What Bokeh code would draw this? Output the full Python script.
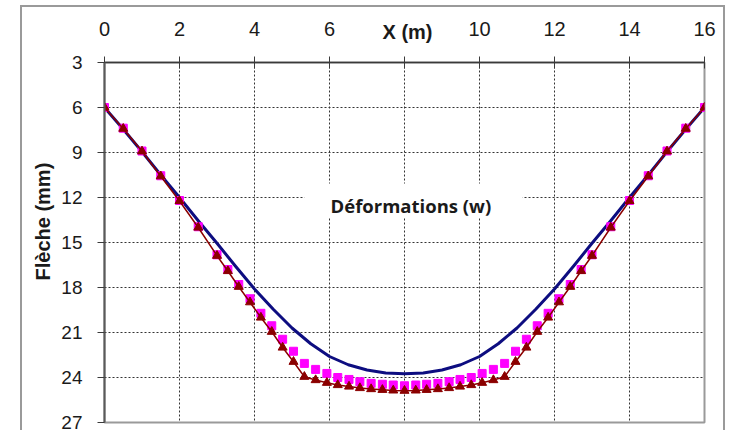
from bokeh.plotting import figure
from bokeh.models import Range1d, FixedTicker, BoxAnnotation, ColumnDataSource, Title, Label
from bokeh.embed import file_html
from bokeh.resources import INLINE

# ---------------- data ----------------
x_ticks = [0, 2, 4, 6, 8, 10, 12, 14, 16]
y_ticks = [3, 6, 9, 12, 15, 18, 21, 24, 27]
x_title = "X (m)"
y_title = "Flèche (mm)"
chart_note = "Déformations (w)"

x_pts = [0.0, 0.5, 1.0, 1.5, 2.0, 2.5, 3.0, 3.29, 3.58, 3.88, 4.17, 4.46, 4.75, 5.04,
         5.33, 5.63, 5.93, 6.22, 6.52, 6.81, 7.11, 7.41, 7.70, 8.0,
         8.30, 8.59, 8.89, 9.19, 9.48, 9.78, 10.07, 10.37, 10.67,
         10.96, 11.25, 11.54, 11.83, 12.12, 12.42, 12.71, 13.0, 13.5, 14.0, 14.5, 15.0, 15.5, 16.0]

w_red = [6.0, 7.41, 8.92, 10.58, 12.23, 14.0, 15.88, 16.9, 17.95, 18.98, 20.0, 20.95, 22.0, 22.95,
         23.95, 24.17, 24.35, 24.5, 24.6, 24.7, 24.77, 24.82, 24.86, 24.88,
         24.86, 24.82, 24.77, 24.7, 24.6, 24.5, 24.35, 24.17, 23.95,
         22.95, 22.0, 20.95, 20.0, 18.98, 17.95, 16.9, 15.88, 14.0, 12.23, 10.58, 8.92, 7.41, 6.0]

w_pink = [6.0, 7.38, 8.9, 10.55, 12.2, 13.95, 15.82, 16.8, 17.8, 18.75, 19.72, 20.55, 21.45, 22.25,
          23.06, 23.46, 23.73, 24.0, 24.13, 24.28, 24.39, 24.45, 24.5, 24.55,
          24.5, 24.45, 24.39, 24.28, 24.13, 24.0, 23.73, 23.46, 23.06,
          22.25, 21.45, 20.55, 19.72, 18.75, 17.8, 16.8, 15.82, 13.95, 12.2, 10.55, 8.9, 7.38, 6.0]

x_blue = [0.0, 0.5, 1.0, 1.5, 2.0, 2.5, 3.0, 3.5, 4.0, 4.5, 5.0, 5.5, 6.0, 6.5, 7.0, 7.5, 8.0,
          8.5, 9.0, 9.5, 10.0, 10.5, 11.0, 11.5, 12.0, 12.5, 13.0, 13.5, 14.0, 14.5, 15.0, 15.5, 16.0]
w_blue = [6.0, 7.45, 8.95, 10.5, 12.0, 13.55, 15.05, 16.6, 18.1, 19.45, 20.7, 21.75, 22.6, 23.15, 23.5, 23.7, 23.75,
          23.7, 23.5, 23.15, 22.6, 21.75, 20.7, 19.45, 18.1, 16.6, 15.05, 13.55, 12.0, 10.5, 8.95, 7.45, 6.0]

# ---------------- figure ----------------
FONT = "Liberation Sans"

p = figure(width=705, height=425, output_backend="svg", toolbar_location=None,
           x_range=Range1d(0, 16), y_range=Range1d(27, 3),
           x_axis_location="above",
           min_border_left=82, min_border_right=23, min_border_top=55, min_border_bottom=10)
p.margin = (5, 0, 0, 20)
p.styles = {"border-left": "2px solid #9a9a9a", "border-top": "2px solid #9a9a9a",
            "border-right": "2px solid #9a9a9a"}
p.background_fill_color = "white"
p.border_fill_color = "white"
p.outline_line_color = "#9a9a9a"
p.outline_line_width = 2

# axes
xa = p.xaxis[0]
xa.ticker = FixedTicker(ticks=x_ticks)
xa.major_label_overrides = {8: ""}
xa.axis_line_color = "#3a3a3a"
xa.axis_line_width = 1.5
xa.major_tick_line_color = "#3a3a3a"
xa.major_tick_out = 6
xa.major_tick_in = 6
xa.minor_tick_line_color = None
xa.major_label_text_font = FONT
xa.major_label_text_font_size = "20px"
xa.major_label_text_color = "#1a1a1a"
xa.major_label_standoff = 21

ya = p.yaxis[0]
ya.ticker = FixedTicker(ticks=y_ticks)
ya.axis_line_color = "#5a5a5a"
ya.axis_line_width = 2
ya.major_tick_line_color = "#3a3a3a"
ya.major_tick_out = 7
ya.major_tick_in = 0
ya.minor_tick_line_color = None
ya.major_label_text_font = FONT
ya.major_label_text_font_size = "19px"
ya.major_label_text_line_height = 0.9
ya.major_label_text_color = "#1a1a1a"
ya.major_label_standoff = 15

for g in (p.xgrid[0], p.ygrid[0]):
    g.grid_line_color = "#333333"
    g.grid_line_dash = "2 2"
    g.grid_line_width = 1
p.xgrid[0].ticker = FixedTicker(ticks=x_ticks)
p.ygrid[0].ticker = FixedTicker(ticks=y_ticks)

# white box behind note
p.add_layout(BoxAnnotation(left=5.33, right=11.15, top=11.06, bottom=13.33,
                           fill_color="white", fill_alpha=1, line_color=None, level="underlay"))

# series
src_b = ColumnDataSource(dict(x=x_blue, y=w_blue))
src_m = ColumnDataSource(dict(x=x_pts, r=w_red, m=w_pink))

p.line("x", "y", source=src_b, line_color="#0d0d80", line_width=3, line_join="round")
p.scatter("x", "m", source=src_m, marker="square", size=8, fill_color="#ff00ff",
          line_color="#ff00ff")
p.line("x", "r", source=src_m, line_color="#8b0000", line_width=1.5)
p.scatter("x", "r", source=src_m, marker="triangle", size=9, fill_color="#8b0000",
          line_color="#8b0000")

# texts
p.add_layout(Title(text=x_title, align="left", offset=278, vertical_align="bottom", standoff=-49,
                   text_font=FONT, text_font_size="20px", text_font_style="bold",
                   text_color="#1a1a1a"), "above")
p.add_layout(Title(text=y_title, align="left", offset=142,
                   text_font=FONT, text_font_size="20px", text_font_style="bold",
                   text_color="#1a1a1a"), "left")
p.add_layout(Label(x=8.17, y=12.53, text=chart_note,
                   text_font="Open Sans", text_font_size="18.5px", text_font_style="bold",
                   text_align="center", text_baseline="middle", text_color="#1a1a1a"))

open("out.html", "w").write(file_html(p, INLINE))
